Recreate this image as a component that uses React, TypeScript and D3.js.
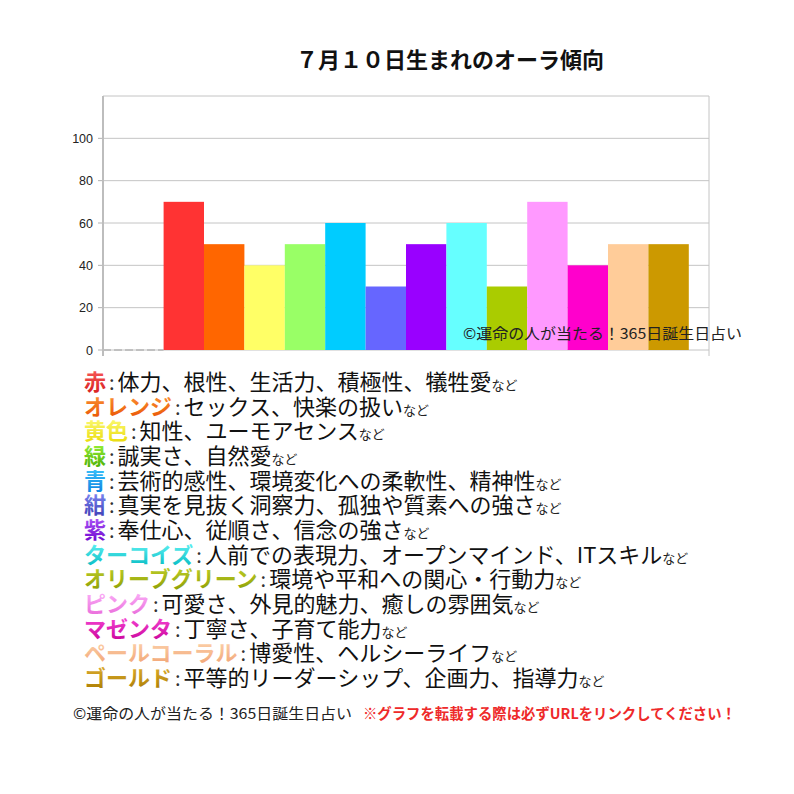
import * as d3 from "d3";

const WIDTH = 794;
const HEIGHT = 794;
const PLOT = { left: 103, right: 709, top: 96, bottom: 350 };
const JP = "'Noto Sans CJK JP', 'Noto Sans', sans-serif";
const NUM = "'Liberation Sans', Arial, sans-serif";

// first slot is an empty series, as in the source chart
const categories = ["", "赤", "オレンジ", "黄色", "緑", "青", "紺", "紫", "ターコイズ", "オリーブグリーン", "ピンク", "マゼンタ", "ペールコーラル", "ゴールド"];
const values = [0, 70, 50, 40, 50, 60, 30, 50, 60, 30, 70, 40, 50, 50];
const barColors = ["#ffffff", "#ff3333", "#ff6600", "#ffff66", "#99ff66", "#00ccff", "#6666ff", "#9900ff", "#66ffff", "#aacc00", "#ff99ff", "#ff00cc", "#ffcc99", "#cc9900"];
const yTicks = [0, 20, 40, 60, 80, 100];

const labelTop = ["#ff6666", "#ffa040", "#ffff88", "#aaff44", "#44d0ff", "#8a96ff", "#b866ff", "#77ffff", "#c8d830", "#ffc0ff", "#ff55e0", "#ffdcb8", "#e8b838"];
const labelBottom = ["#d41a1a", "#e85000", "#e8d800", "#44aa00", "#0a7ee0", "#3838b0", "#6a00cc", "#00b8c0", "#889900", "#e866d8", "#c80098", "#f0a070", "#a87a00"];
const traits = [
  "体力、根性、生活力、積極性、犠牲愛",
  "セックス、快楽の扱い",
  "知性、ユーモアセンス",
  "誠実さ、自然愛",
  "芸術的感性、環境変化への柔軟性、精神性",
  "真実を見抜く洞察力、孤独や質素への強さ",
  "奉仕心、従順さ、信念の強さ",
  "人前での表現力、オープンマインド、ITスキル",
  "環境や平和への関心・行動力",
  "可愛さ、外見的魅力、癒しの雰囲気",
  "丁寧さ、子育て能力",
  "博愛性、ヘルシーライフ",
  "平等的リーダーシップ、企画力、指導力",
];

const TITLE = "７月１０日生まれのオーラ傾向";
const COPYRIGHT = "©運命の人が当たる！365日誕生日占い";
const NOTICE = "※グラフを転載する際は必ずURLをリンクしてください！";

export default function App() {
  const x = d3
    .scaleBand<number>()
    .domain(d3.range(categories.length))
    .range([PLOT.left, PLOT.right])
    .paddingInner(0)
    .paddingOuter(0.5);
  const y = d3.scaleLinear().domain([0, 120]).range([PLOT.bottom, PLOT.top]);
  const bw = x.bandwidth();

  const legendRows = categories.slice(1);
  const row = d3.scaleLinear().domain([0, legendRows.length - 1]).range([390, 686]);

  return (
    <svg
      width={WIDTH}
      height={HEIGHT}
      viewBox={`0 0 ${WIDTH} ${HEIGHT}`}
      style={{ position: "absolute", left: 0, top: 0, background: "#fff" }}
    >
      <defs>
        {legendRows.map((_, i) => (
          <linearGradient key={i} id={`lg${i}`} x1="0" y1="0" x2="0" y2="1">
            <stop offset="0%" stopColor={labelTop[i]} />
            <stop offset="100%" stopColor={labelBottom[i]} />
          </linearGradient>
        ))}
      </defs>

      <text
        x={450}
        y={68}
        textAnchor="middle"
        style={{ fontFamily: JP, fontSize: 22, fontWeight: 700 }}
        fill="#111"
      >
        {TITLE}
      </text>

      {/* gridlines */}
      {yTicks.map((t) => (
        <g key={t}>
          <line x1={PLOT.left} x2={PLOT.right} y1={y(t)} y2={y(t)} stroke="#c4c4c4" strokeWidth={1} />
          <line x1={PLOT.left - 5} x2={PLOT.left} y1={y(t)} y2={y(t)} stroke="#b0b0b0" strokeWidth={1} />
          <text
            x={PLOT.left - 10}
            y={y(t) + 4.5}
            textAnchor="end"
            style={{ fontFamily: NUM, fontSize: 12.5 }}
            fill="#222"
          >
            {t}
          </text>
        </g>
      ))}
      <line x1={PLOT.left} x2={PLOT.right} y1={y(120)} y2={y(120)} stroke="#c4c4c4" />
      <line x1={PLOT.right} x2={PLOT.right} y1={y(120)} y2={PLOT.bottom + 6} stroke="#c4c4c4" />

      {values.map((v, i) => (
        <rect
          key={i}
          x={x(i)}
          y={y(v)}
          width={bw}
          height={y(0) - y(v)}
          fill={barColors[i]}
        />
      ))}
      <line
        x1={PLOT.left}
        x2={(x(0) ?? 0) + bw}
        y1={y(0)}
        y2={y(0)}
        stroke="#a0a0a0"
        strokeDasharray="8,3"
      />
      <line x1={PLOT.left} x2={PLOT.left} y1={y(120)} y2={PLOT.bottom + 6} stroke="#bdbdbd" strokeWidth={2} />

      <text
        x={463}
        y={339}
        textLength={279}
        lengthAdjust="spacingAndGlyphs"
        style={{ fontFamily: JP, fontSize: 15 }}
        fill="#222"
      >
        {COPYRIGHT}
      </text>

      {legendRows.map((name, i) => (
        <text key={name} x={84} y={row(i)} style={{ fontFamily: JP }}>
          <tspan fill={`url(#lg${i})`} style={{ fontSize: 22, fontWeight: 700 }}>
            {name}
          </tspan>
          <tspan fill="#333" dx={3} style={{ fontSize: 20 }}>
            :
          </tspan>
          <tspan fill="#111" dx={3} style={{ fontSize: 22 }}>
            {traits[i]}
          </tspan>
          <tspan fill="#222" style={{ fontSize: 13 }}>
            など
          </tspan>
        </text>
      ))}

      <text
        x={73}
        y={719}
        textLength={279}
        lengthAdjust="spacingAndGlyphs"
        style={{ fontFamily: JP, fontSize: 15 }}
        fill="#222"
      >
        {COPYRIGHT}
      </text>
      <text
        x={363}
        y={719}
        textLength={373}
        lengthAdjust="spacingAndGlyphs"
        style={{ fontFamily: JP, fontSize: 14.5, fontWeight: 700 }}
        fill="#ee2a2a"
      >
        {NOTICE}
      </text>
    </svg>
  );
}
